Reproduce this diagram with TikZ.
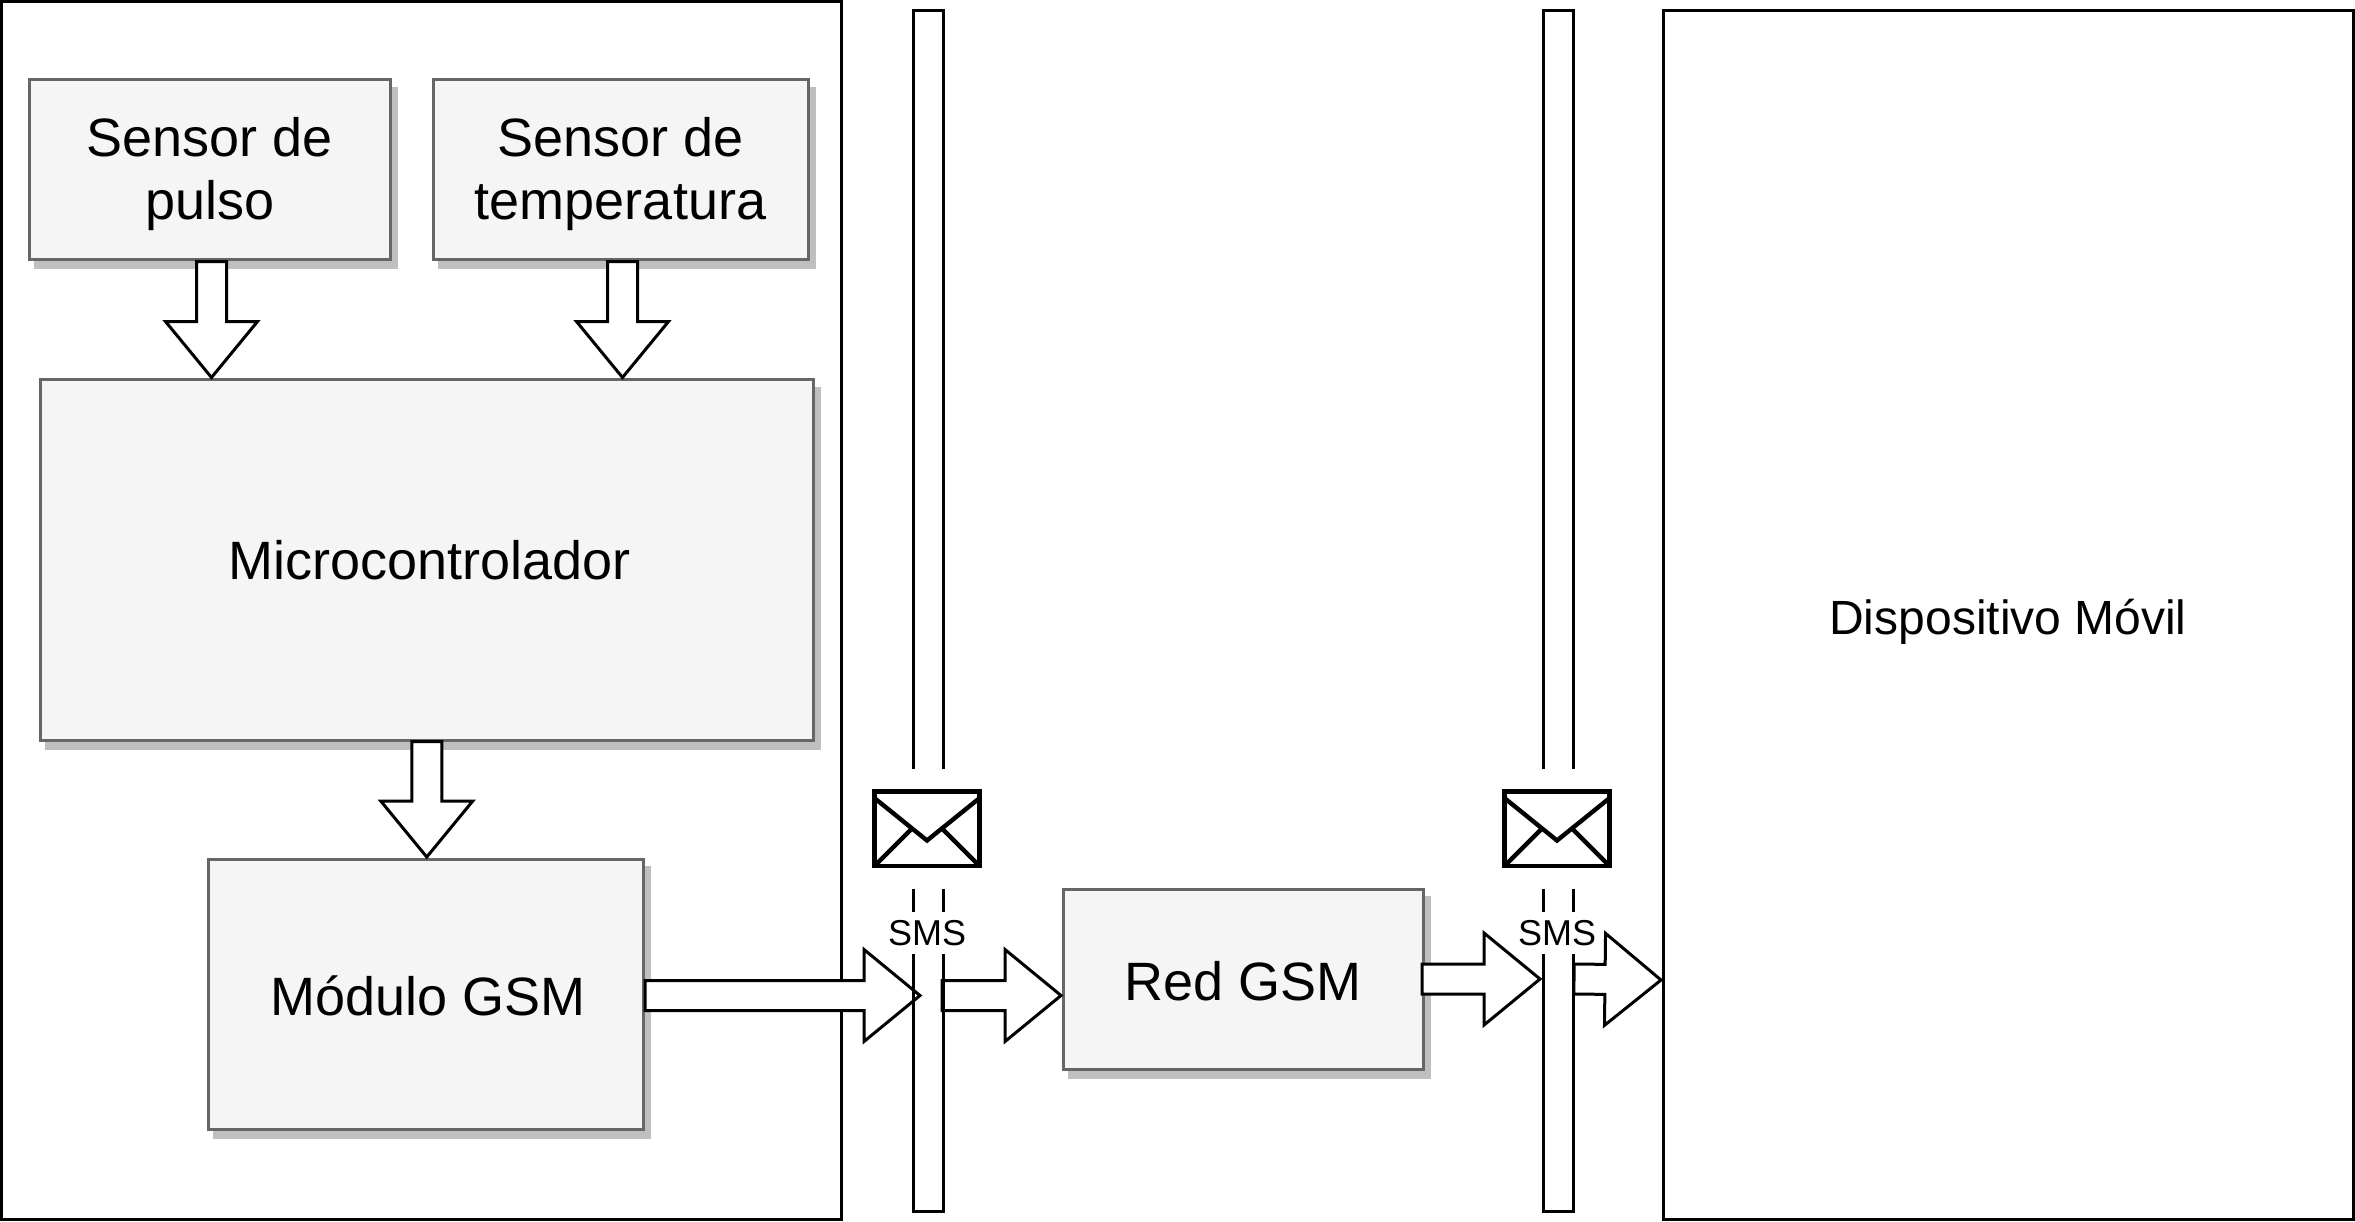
\documentclass[tikz,border=0pt]{standalone}
\usepackage{fontspec}
\setmainfont{Liberation Sans}
\usetikzlibrary{calc,shadows}
\definecolor{boxline}{HTML}{666666}
\definecolor{boxfill}{HTML}{F5F5F5}
\definecolor{boxshadow}{HTML}{BFBFBF}
\tikzset{
    modulebox/.style={rectangle,draw=boxline,fill=boxfill,line width=1.5pt,outer sep=0pt,align=center,
        font=\fontsize{27}{31.5}\selectfont,
        drop shadow={shadow xshift=3.1pt,shadow yshift=-4.4pt,fill=boxshadow,draw=boxshadow,line width=1.5pt,opacity=1}},
    framebox/.style={rectangle,draw=black,fill=white,line width=1.5pt,outer sep=0pt},
    blockarrow/.style={draw=black,fill=white,line width=1.5pt,miter limit=10,to path={
        ($(\tikztostart)!7.5pt!90:(\tikztotarget)$)
        -- ($(\tikztotarget)!28pt!(\tikztostart)!7.5pt!90:(\tikztotarget)$)
        -- ($(\tikztotarget)!28pt!(\tikztostart)!23pt!90:(\tikztotarget)$)
        -- (\tikztotarget)
        -- ($(\tikztotarget)!28pt!(\tikztostart)!23pt!-90:(\tikztotarget)$)
        -- ($(\tikztotarget)!28pt!(\tikztostart)!7.5pt!-90:(\tikztotarget)$)
        -- ($(\tikztostart)!7.5pt!-90:(\tikztotarget)$)
        -- cycle}},
    mailbox/.style={rectangle,draw=black,fill=white,line width=2.3pt,minimum width=52.7pt,minimum height=37.3pt,outer sep=0pt},
    barline/.style={draw=black,line width=1.5pt}
}
\begin{document}
\begin{tikzpicture}[x=0.5pt,y=-0.5pt]
\useasboundingbox (0,0) rectangle (2355,1221);

\node[framebox,minimum width=419.75pt,minimum height=609pt] (placa) at (421.25,610.5) {};
\node[framebox,minimum width=345pt,minimum height=604.25pt,font=\fontsize{24}{28}\selectfont,text height=20pt,text depth=0pt] (movil) at (2008,614.75) {Dispositivo Móvil};

\node[modulebox,minimum width=180.25pt,minimum height=89.75pt,text height=55.7pt] (pulso) at (209.75,169.25) {Sensor de\\pulso};
\node[modulebox,minimum width=187.5pt,minimum height=89.75pt,text height=55.7pt] (temperatura) at (620.5,169.25) {Sensor de\\temperatura};
\node[modulebox,minimum width=386.5pt,minimum height=180.25pt] (micro) at (426.75,559.75) {\hspace*{3pt}Microcontrolador};
\node[modulebox,minimum width=217.5pt,minimum height=135pt,text height=21pt,text depth=0pt] (gsm) at (425.75,994) {\hspace*{2pt}Módulo GSM};
\node[modulebox,minimum width=180.25pt,minimum height=90pt,text height=21pt,text depth=0pt] (red) at (1243.25,979) {Red GSM};

\coordinate (pulsoout) at ($(pulso.south)+(1.75,2.5)$);
\coordinate (pulsoin) at ($(pulsoout |- micro.north)+(0,-2)$);
\coordinate (tempout) at ($(temperatura.south)+(2,2.5)$);
\coordinate (tempin) at ($(tempout |- micro.north)+(0,-2)$);
\coordinate (gsmout) at ($(micro.south)+(0,1.5)$);
\coordinate (gsmin) at ($(gsmout |- gsm.north)+(0,-2)$);
\coordinate (gsmtail) at (645,995.5);
\coordinate (gsmtip) at (920,995.5);
\coordinate (barout) at (942,995.5);
\coordinate (redin) at ($(red.west |- barout)+(-2,0)$);
\coordinate (redout) at (1422,979);
\coordinate (redtip) at (1540,979);
\coordinate (moviltail) at (1574,979);
\coordinate (movilin) at (1661,980);

\draw[blockarrow] (pulsoout) to (pulsoin);
\draw[blockarrow] (tempout) to (tempin);
\draw[blockarrow] (gsmout) to (gsmin);
\draw[blockarrow] (gsmtail) to (gsmtip);
\draw[blockarrow] (barout) to (redin);
\draw[blockarrow] (redout) to (redtip);
\draw[blockarrow] (moviltail) to (movilin);

\foreach \c/\t in {913.5/1,1543.5/2} {
    \draw[barline] (\c,769) -- (\c,10.5) -- (\c+30,10.5) -- (\c+30,769);
    \draw[barline] (\c,889) -- (\c,912);
    \draw[barline] (\c+30,889) -- (\c+30,912);
    \draw[barline] (\c,954) -- (\c,1211) -- (\c+30,1211) -- (\c+30,954);

    \node[mailbox] (mail\t) at (\c+13.5,828.5) {};
    \draw[line width=2.2pt,shift={(mail\t.center)}] (-52,-30) -- (0,12) -- (52,-30);
    \draw[line width=2.2pt,shift={(mail\t.center)}] (-52,37) -- (-16,1);
    \draw[line width=2.2pt,shift={(mail\t.center)}] (52,37) -- (16,1);

    \node[font=\fontsize{18}{21}\selectfont,inner sep=0pt] (sms\t) at (\c+13.5,933.5) {SMS};
}
\end{tikzpicture}
\end{document}
